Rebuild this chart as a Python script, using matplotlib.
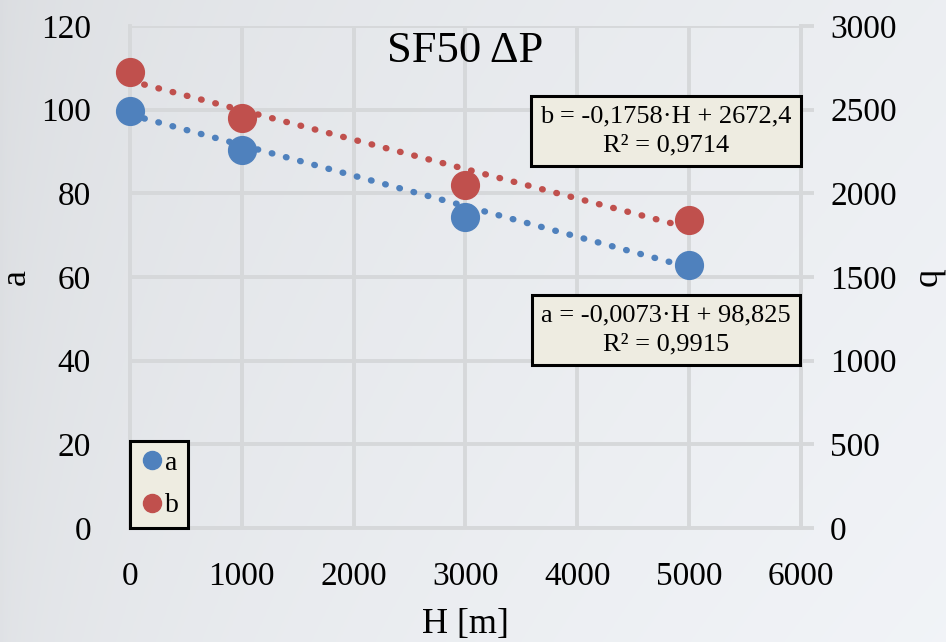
import numpy as np
import matplotlib
matplotlib.use("Agg")
import matplotlib.pyplot as plt
from matplotlib.lines import Line2D

plt.rcParams['font.family'] = ['Liberation Serif', 'DejaVu Serif']
plt.rcParams['mathtext.fontset'] = 'stix'

# Data
H = [0, 1000, 3000, 5000]
a_vals = [99.8, 90.3, 74.4, 62.9]
b_vals = [2725, 2450, 2050, 1838]

# Linear trend coefficients (slope, intercept) and R²
a_fit = (-0.0073, 98.825, 0.9915)
b_fit = (-0.1758, 2672.4, 0.9714)

x_ticks = [0, 1000, 2000, 3000, 4000, 5000, 6000]
a_ticks = [0, 20, 40, 60, 80, 100, 120]
b_ticks = [0, 500, 1000, 1500, 2000, 2500, 3000]

BLUE = '#4f81bd'
RED = '#c0504d'
GRID = '#d6d8da'
BOX_FILL = '#eeece1'

fig = plt.figure(figsize=(9.46, 6.42), dpi=100)

# soft grey-blue backdrop
bg = fig.add_axes([0, 0, 1, 1], zorder=-10)
gx = np.linspace(0, 1, 256)
gy = np.linspace(0, 1, 256)
X, Y = np.meshgrid(gx, gy)
shade = 0.87 + 0.07 * np.sqrt(X) + 0.02 * Y
img = np.dstack([shade * 0.985, shade * 0.995, shade * 1.01])
bg.imshow(np.clip(img, 0, 1), aspect='auto', extent=[0, 1, 0, 1])
bg.axis('off')

ax = fig.add_axes([0.1374, 0.1776, 0.7093, 0.7819])
ax.patch.set_alpha(0)
ax2 = ax.twinx()

ax.set_xlim(0, 6000)
ax.set_ylim(0, 120)
ax2.set_ylim(0, 3000)

ax.set_xticks(x_ticks)
ax.set_yticks(a_ticks)
ax2.set_yticks(b_ticks)

ax.grid(True, color=GRID, linewidth=2.8, zorder=0)
ax.set_axisbelow(True)

ax.spines['top'].set_visible(False)
ax2.spines['top'].set_visible(False)
ax2.spines['left'].set_visible(False)
ax2.spines['bottom'].set_visible(False)
for sp in ['left', 'right', 'bottom']:
    ax.spines[sp].set_color(GRID)
    ax.spines[sp].set_linewidth(2.8)
ax2.spines['right'].set_color(GRID)
ax2.spines['right'].set_linewidth(2.8)

ax.tick_params(axis='x', length=0, labelsize=24, pad=24)
ax.tick_params(axis='y', length=0, labelsize=24, pad=28)
ax2.tick_params(axis='y', length=9, width=2.8, color=GRID, labelsize=24, pad=12)

hh = np.array([0, 5000])
# trend lines
ax.plot(hh, a_fit[0] * hh + a_fit[1], color=BLUE, linestyle=(0, (0.1, 2.2)),
        linewidth=4.6, dash_capstyle='round', zorder=3)
ax2.plot(hh, b_fit[0] * hh + b_fit[1], color=RED, linestyle=(0, (0.1, 2.2)),
         linewidth=4.6, dash_capstyle='round', zorder=3)

# data points
ax.plot(H, a_vals, 'o', color=BLUE, markersize=20, zorder=4, clip_on=False)
ax2.plot(H, b_vals, 'o', color=RED, markersize=20, zorder=4, clip_on=False)

ax.set_xlabel('H [m]', fontsize=26, labelpad=12)
ax.set_ylabel('a', fontsize=26, labelpad=6)
ax2.set_ylabel('b', fontsize=26, rotation=270, labelpad=34)

ax.text(0.5, 0.99, 'SF50 ΔP', transform=ax.transAxes, ha='center', va='top',
        fontsize=32, family=['Liberation Serif', 'DejaVu Serif'])

def fmt(v, nd):
    return f'{v:.{nd}f}'.replace('.', ',')

box = dict(boxstyle='square,pad=0.35', facecolor=BOX_FILL, edgecolor='black', linewidth=2.2)
b_txt = f'b = {fmt(b_fit[0], 4)}·H + {fmt(b_fit[1], 1)}\nR² = {fmt(b_fit[2], 4)}'
a_txt = f'a = {fmt(a_fit[0], 4)}·H + {fmt(a_fit[1], 3)}\nR² = {fmt(a_fit[2], 4)}'
fig.text(666 / 946, 1 - 131 / 642, b_txt, ha='center', va='center', fontsize=19,
         linespacing=1.45, bbox=box, zorder=10)
fig.text(666 / 946, 1 - 330 / 642, a_txt, ha='center', va='center', fontsize=19,
         linespacing=1.45, bbox=box, zorder=10)

handles = [Line2D([], [], marker='o', linestyle='none', color=BLUE, markersize=13),
           Line2D([], [], marker='o', linestyle='none', color=RED, markersize=13)]
leg = ax.legend(handles, ['a', 'b'], loc='lower left', bbox_to_anchor=(0.0, 0.0),
                fontsize=20, frameon=True, fancybox=False, borderpad=0.35,
                handletextpad=0.0, labelspacing=0.6, handlelength=0.9,
                borderaxespad=0.0)
leg.get_frame().set_facecolor(BOX_FILL)
leg.get_frame().set_edgecolor('black')
leg.get_frame().set_linewidth(2.2)
leg.get_frame().set_alpha(1)
leg.set_zorder(10)

fig.savefig('out.png', dpi=100)
